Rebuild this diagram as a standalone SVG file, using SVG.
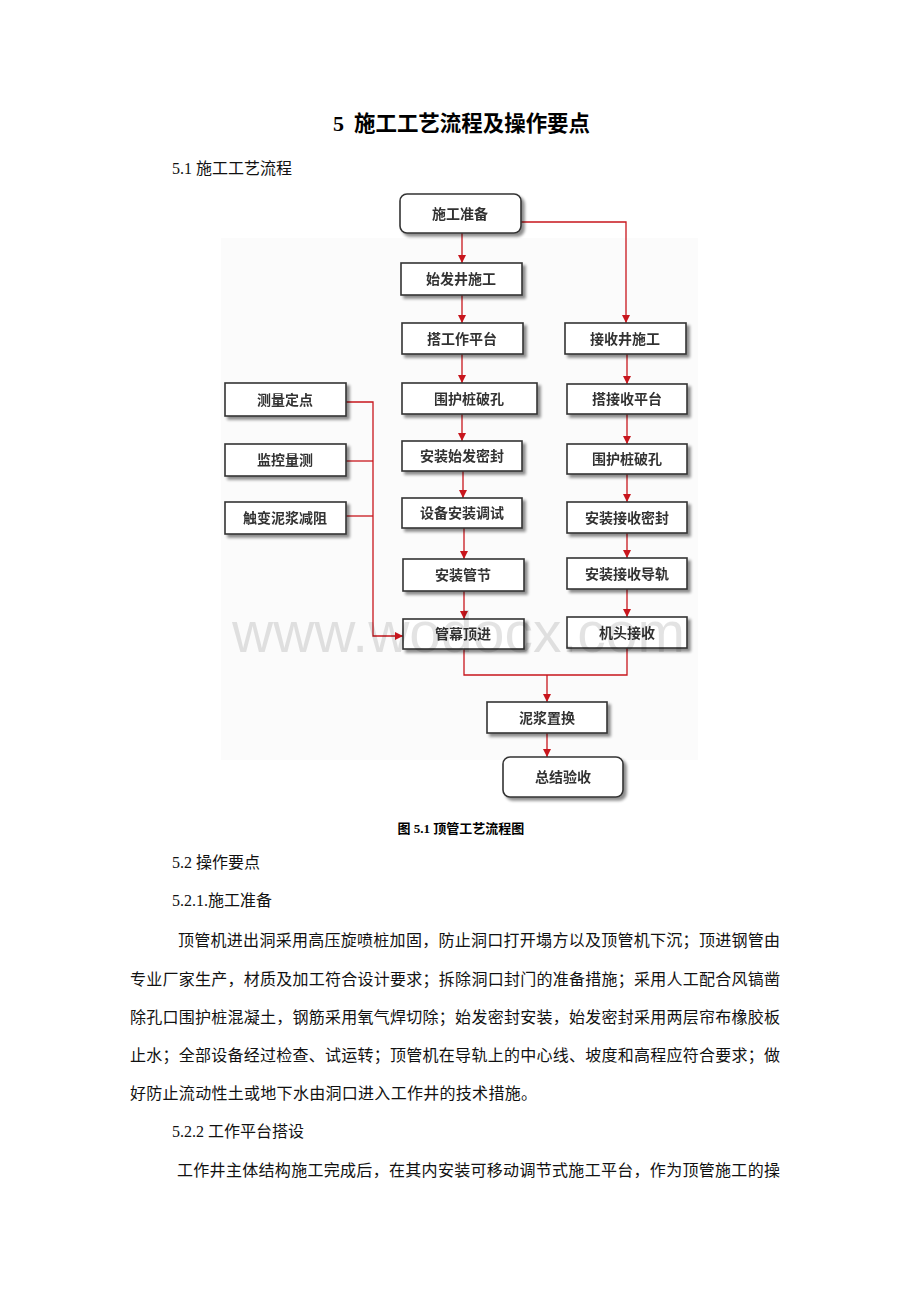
<svg xmlns="http://www.w3.org/2000/svg" width="920" height="1302" viewBox="0 0 920 1302">
<style>
.box{fill:#fff;stroke:#333;stroke-width:1.6}
.lbl{font-family:"Liberation Serif","Noto Sans CJK SC",serif;font-size:14px;font-weight:bold;fill:#333;text-anchor:middle}
.con{fill:none;stroke:#c8161d;stroke-width:1.3}
.body{font-family:"Liberation Serif","Noto Sans CJK SC",serif;font-size:16px;fill:#111}
</style>
<defs>
<filter id="sh" x="-10%" y="-20%" width="130%" height="160%">
<feGaussianBlur in="SourceAlpha" stdDeviation="1.5"/>
<feOffset dx="2.5" dy="2.5" result="b"/>
<feComponentTransfer><feFuncA type="linear" slope="0.45"/></feComponentTransfer>
<feMerge><feMergeNode/><feMergeNode in="SourceGraphic"/></feMerge>
</filter>
<marker id="ar" viewBox="0 0 10 10" refX="10" refY="5" markerWidth="8" markerHeight="8" markerUnits="userSpaceOnUse" orient="auto">
<path d="M0,0 L10,5 L0,10 Z" fill="#c8161d"/>
</marker>
</defs>
<rect width="920" height="1302" fill="#fff"/>
<text x="333" y="131" font-family="Liberation Serif,'Noto Sans CJK SC',serif" font-size="22" font-weight="bold" fill="#000">5<tspan x="354" textLength="236" lengthAdjust="spacingAndGlyphs">施工工艺流程及操作要点</tspan></text>
<text x="172" y="174" class="body" font-size="15">5.1 施工工艺流程</text>
<rect x="221" y="238" width="477" height="522" fill="#fbfbfb"/>
<g id="connectors">
<path class="con" d="M462,233 V263" marker-end="url(#ar)"/>
<path class="con" d="M521,222 H626 V323" marker-end="url(#ar)"/>
<path class="con" d="M462,295 V323" marker-end="url(#ar)"/>
<path class="con" d="M462,354 V383" marker-end="url(#ar)"/>
<path class="con" d="M462,414 V441" marker-end="url(#ar)"/>
<path class="con" d="M463,471 V498" marker-end="url(#ar)"/>
<path class="con" d="M464,528 V559" marker-end="url(#ar)"/>
<path class="con" d="M464,591 V619" marker-end="url(#ar)"/>
<path class="con" d="M627,354 V384" marker-end="url(#ar)"/>
<path class="con" d="M627,414 V444" marker-end="url(#ar)"/>
<path class="con" d="M627,474 V502" marker-end="url(#ar)"/>
<path class="con" d="M627,533 V558" marker-end="url(#ar)"/>
<path class="con" d="M627,589 V617" marker-end="url(#ar)"/>
<path class="con" d="M346,402 H373 V636 H403" marker-end="url(#ar)"/>
<path class="con" d="M346,461 H373"/>
<path class="con" d="M346,516 H373"/>
<path class="con" d="M464,649 V675 H627 V648"/>
<path class="con" d="M547,675 V702" marker-end="url(#ar)"/>
<path class="con" d="M547,733 V757" marker-end="url(#ar)"/>
</g>
<g id="n1" filter="url(#sh)"><rect class="box" x="400" y="194" width="121" height="39" rx="7"/><text class="lbl" x="460" y="219">施工准备</text></g>
<g id="n2" filter="url(#sh)"><rect class="box" x="401" y="263" width="121" height="32"/><text class="lbl" x="461" y="284">始发井施工</text></g>
<g id="n3" filter="url(#sh)"><rect class="box" x="402" y="323" width="121" height="31"/><text class="lbl" x="462" y="344">搭工作平台</text></g>
<g id="n4" filter="url(#sh)"><rect class="box" x="402" y="383" width="135" height="31"/><text class="lbl" x="469" y="404">围护桩破孔</text></g>
<g id="n5" filter="url(#sh)"><rect class="box" x="402" y="441" width="120" height="30"/><text class="lbl" x="462" y="461">安装始发密封</text></g>
<g id="n6" filter="url(#sh)"><rect class="box" x="402" y="498" width="120" height="30"/><text class="lbl" x="462" y="518">设备安装调试</text></g>
<g id="n7" filter="url(#sh)"><rect class="box" x="403" y="559" width="121" height="32"/><text class="lbl" x="463" y="580">安装管节</text></g>
<g id="n8" filter="url(#sh)"><rect class="box" x="403" y="619" width="121" height="30"/><text class="lbl" x="463" y="639">管幕顶进</text></g>
<g id="r1" filter="url(#sh)"><rect class="box" x="565" y="323" width="121" height="31"/><text class="lbl" x="625" y="344">接收井施工</text></g>
<g id="r2" filter="url(#sh)"><rect class="box" x="567" y="384" width="120" height="30"/><text class="lbl" x="627" y="404">搭接收平台</text></g>
<g id="r3" filter="url(#sh)"><rect class="box" x="567" y="444" width="120" height="30"/><text class="lbl" x="627" y="464">围护桩破孔</text></g>
<g id="r4" filter="url(#sh)"><rect class="box" x="567" y="502" width="120" height="31"/><text class="lbl" x="627" y="523">安装接收密封</text></g>
<g id="r5" filter="url(#sh)"><rect class="box" x="567" y="558" width="120" height="31"/><text class="lbl" x="627" y="579">安装接收导轨</text></g>
<g id="r6" filter="url(#sh)"><rect class="box" x="567" y="617" width="120" height="31"/><text class="lbl" x="627" y="638">机头接收</text></g>
<g id="l1" filter="url(#sh)"><rect class="box" x="225" y="383" width="121" height="33"/><text class="lbl" x="285" y="405">测量定点</text></g>
<g id="l2" filter="url(#sh)"><rect class="box" x="225" y="444" width="121" height="32"/><text class="lbl" x="285" y="465">监控量测</text></g>
<g id="l3" filter="url(#sh)"><rect class="box" x="225" y="502" width="121" height="32"/><text class="lbl" x="285" y="523">触变泥浆减阻</text></g>
<g id="b1" filter="url(#sh)"><rect class="box" x="487" y="702" width="120" height="31"/><text class="lbl" x="547" y="723">泥浆置换</text></g>
<g id="b2" filter="url(#sh)"><rect class="box" x="503" y="757" width="120" height="40" rx="7"/><text class="lbl" x="563" y="782">总结验收</text></g>
<text x="232" y="652" font-family="Liberation Sans,Arial,sans-serif" font-size="57" fill="#000" fill-opacity="0.11">www.wodocx.com</text>
<text x="461" y="833" font-family="Liberation Serif,'Noto Sans CJK SC',serif" font-size="13" font-weight="bold" fill="#000" text-anchor="middle">图 5.1 顶管工艺流程图</text>
<text x="172" y="868" class="body" font-size="15">5.2 操作要点</text>
<text x="172" y="906" class="body" font-size="15">5.2.1.施工准备</text>
<text x="178" y="946" class="body" textLength="602" lengthAdjust="spacing">顶管机进出洞采用高压旋喷桩加固，防止洞口打开塌方以及顶管机下沉；顶进钢管由</text>
<text x="130" y="985" class="body" textLength="650" lengthAdjust="spacing">专业厂家生产，材质及加工符合设计要求；拆除洞口封门的准备措施；采用人工配合风镐凿</text>
<text x="130" y="1023" class="body" textLength="650" lengthAdjust="spacing">除孔口围护桩混凝土，钢筋采用氧气焊切除；始发密封安装，始发密封采用两层帘布橡胶板</text>
<text x="130" y="1061" class="body" textLength="650" lengthAdjust="spacing">止水；全部设备经过检查、试运转；顶管机在导轨上的中心线、坡度和高程应符合要求；做</text>
<text x="130" y="1099" class="body" textLength="407" lengthAdjust="spacing">好防止流动性土或地下水由洞口进入工作井的技术措施。</text>
<text x="172" y="1137" class="body" font-size="15">5.2.2 工作平台搭设</text>
<text x="177" y="1176" class="body" textLength="603" lengthAdjust="spacing">工作井主体结构施工完成后，在其内安装可移动调节式施工平台，作为顶管施工的操</text>
</svg>
